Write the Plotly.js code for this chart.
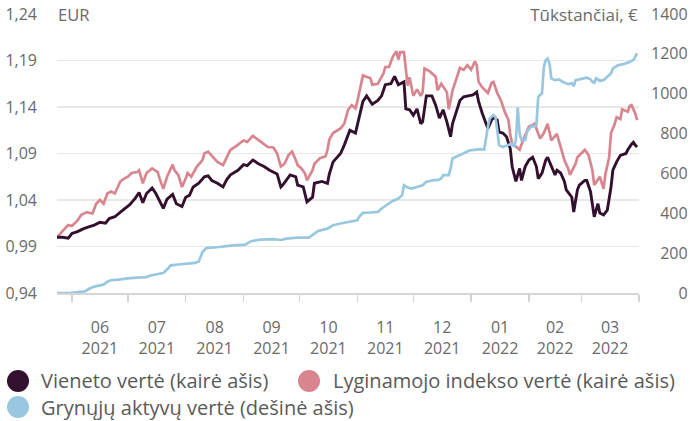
<!DOCTYPE html>
<html><head><meta charset="utf-8">
<script src="https://cdn.plot.ly/plotly-3.0.1.min.js"></script>
<style>html,body{margin:0;padding:0;background:#fff}#chart{width:690px;height:421px}</style>
</head><body><div id="chart"></div>
<script>
// ---- DATA ----
const unitDates = ["2021-05-24","2021-05-27","2021-05-30","2021-06-01","2021-06-04","2021-06-07","2021-06-10","2021-06-13","2021-06-16","2021-06-19","2021-06-21","2021-06-24","2021-06-27","2021-06-29","2021-07-02","2021-07-05","2021-07-07","2021-07-09","2021-07-11","2021-07-14","2021-07-16","2021-07-20","2021-07-22","2021-07-25","2021-07-27","2021-07-30","2021-08-01","2021-08-03","2021-08-05","2021-08-08","2021-08-11","2021-08-13","2021-08-15","2021-08-18","2021-08-21","2021-08-23","2021-08-25","2021-08-29","2021-09-01","2021-09-03","2021-09-06","2021-09-09","2021-09-12","2021-09-15","2021-09-19","2021-09-21","2021-09-22","2021-09-26","2021-09-29","2021-09-30","2021-10-03","2021-10-05","2021-10-08","2021-10-09","2021-10-13","2021-10-16","2021-10-17","2021-10-19","2021-10-23","2021-10-25","2021-10-28","2021-10-31","2021-11-01","2021-11-04","2021-11-06","2021-11-09","2021-11-12","2021-11-14","2021-11-16","2021-11-19","2021-11-21","2021-11-23","2021-11-26","2021-11-27","2021-11-29","2021-12-01","2021-12-03","2021-12-05","2021-12-06","2021-12-08","2021-12-11","2021-12-13","2021-12-15","2021-12-17","2021-12-19","2021-12-21","2021-12-22","2021-12-26","2021-12-28","2021-12-30","2022-01-02","2022-01-04","2022-01-05","2022-01-07","2022-01-10","2022-01-12","2022-01-13","2022-01-15","2022-01-16","2022-01-18","2022-01-20","2022-01-22","2022-01-23","2022-01-25","2022-01-26","2022-01-27","2022-01-28","2022-01-30","2022-02-01","2022-02-03","2022-02-05","2022-02-06","2022-02-08","2022-02-10","2022-02-11","2022-02-13","2022-02-15","2022-02-16","2022-02-18","2022-02-20","2022-02-21","2022-02-24","2022-02-25","2022-02-27","2022-02-28","2022-03-03","2022-03-04","2022-03-06","2022-03-07","2022-03-08","2022-03-10","2022-03-11","2022-03-13","2022-03-15","2022-03-17","2022-03-18","2022-03-20","2022-03-22","2022-03-25","2022-03-26","2022-03-28","2022-03-29","2022-03-30","2022-03-31"];
const unitValues = [1.000,1.000,0.999,1.004,1.006,1.009,1.011,1.013,1.016,1.015,1.020,1.022,1.027,1.030,1.035,1.042,1.048,1.037,1.047,1.053,1.047,1.031,1.041,1.046,1.036,1.033,1.043,1.045,1.054,1.058,1.065,1.066,1.061,1.058,1.054,1.062,1.067,1.072,1.078,1.077,1.083,1.079,1.076,1.072,1.068,1.054,1.056,1.067,1.065,1.056,1.054,1.038,1.043,1.058,1.060,1.058,1.068,1.081,1.090,1.099,1.115,1.112,1.120,1.146,1.152,1.143,1.147,1.152,1.164,1.165,1.173,1.164,1.167,1.138,1.137,1.131,1.138,1.122,1.124,1.152,1.152,1.142,1.128,1.137,1.124,1.108,1.122,1.147,1.151,1.152,1.153,1.156,1.146,1.133,1.117,1.126,1.129,1.126,1.113,1.112,1.108,1.095,1.076,1.060,1.067,1.074,1.061,1.076,1.083,1.086,1.076,1.063,1.069,1.083,1.086,1.076,1.067,1.072,1.069,1.060,1.051,1.043,1.027,1.051,1.056,1.061,1.061,1.049,1.034,1.022,1.036,1.026,1.024,1.029,1.054,1.072,1.081,1.088,1.090,1.094,1.100,1.102,1.099,1.097];

const indexDates = ["2021-05-24","2021-05-27","2021-05-30","2021-06-01","2021-06-04","2021-06-06","2021-06-09","2021-06-12","2021-06-14","2021-06-16","2021-06-18","2021-06-20","2021-06-22","2021-06-24","2021-06-27","2021-06-29","2021-07-01","2021-07-03","2021-07-06","2021-07-07","2021-07-09","2021-07-11","2021-07-14","2021-07-17","2021-07-18","2021-07-20","2021-07-22","2021-07-25","2021-07-26","2021-07-28","2021-07-30","2021-08-01","2021-08-02","2021-08-04","2021-08-07","2021-08-10","2021-08-11","2021-08-13","2021-08-15","2021-08-18","2021-08-21","2021-08-23","2021-08-25","2021-08-28","2021-09-01","2021-09-03","2021-09-06","2021-09-10","2021-09-14","2021-09-17","2021-09-19","2021-09-21","2021-09-23","2021-09-25","2021-09-27","2021-09-29","2021-09-30","2021-10-02","2021-10-04","2021-10-05","2021-10-08","2021-10-09","2021-10-12","2021-10-15","2021-10-16","2021-10-17","2021-10-19","2021-10-23","2021-10-25","2021-10-27","2021-10-29","2021-10-31","2021-11-01","2021-11-04","2021-11-08","2021-11-09","2021-11-12","2021-11-15","2021-11-16","2021-11-18","2021-11-20","2021-11-22","2021-11-23","2021-11-24","2021-11-26","2021-11-28","2021-11-29","2021-12-01","2021-12-03","2021-12-05","2021-12-06","2021-12-07","2021-12-10","2021-12-13","2021-12-14","2021-12-16","2021-12-19","2021-12-20","2021-12-22","2021-12-26","2021-12-28","2021-12-30","2022-01-01","2022-01-03","2022-01-04","2022-01-05","2022-01-07","2022-01-10","2022-01-12","2022-01-13","2022-01-15","2022-01-17","2022-01-19","2022-01-21","2022-01-22","2022-01-23","2022-01-25","2022-01-27","2022-01-29","2022-02-01","2022-02-03","2022-02-04","2022-02-07","2022-02-09","2022-02-11","2022-02-13","2022-02-16","2022-02-18","2022-02-20","2022-02-22","2022-02-23","2022-02-26","2022-02-27","2022-03-01","2022-03-03","2022-03-05","2022-03-07","2022-03-08","2022-03-09","2022-03-11","2022-03-13","2022-03-14","2022-03-16","2022-03-17","2022-03-19","2022-03-20","2022-03-22","2022-03-23","2022-03-26","2022-03-27","2022-03-28","2022-03-30","2022-03-31"];
const indexValues = [1.000,1.006,1.013,1.012,1.018,1.024,1.027,1.0255,1.036,1.040,1.036,1.047,1.049,1.047,1.060,1.063,1.065,1.069,1.070,1.072,1.058,1.069,1.074,1.070,1.063,1.052,1.065,1.078,1.072,1.067,1.054,1.063,1.069,1.065,1.076,1.083,1.090,1.092,1.088,1.081,1.0775,1.085,1.094,1.098,1.104,1.1025,1.109,1.103,1.097,1.0965,1.090,1.076,1.079,1.088,1.092,1.083,1.0775,1.074,1.0685,1.061,1.072,1.079,1.085,1.087,1.094,1.105,1.112,1.117,1.122,1.137,1.142,1.1385,1.146,1.174,1.171,1.164,1.165,1.176,1.183,1.183,1.194,1.200,1.191,1.199,1.199,1.163,1.172,1.152,1.159,1.152,1.156,1.1815,1.178,1.1725,1.158,1.165,1.156,1.1375,1.1575,1.182,1.180,1.185,1.180,1.189,1.185,1.167,1.161,1.155,1.166,1.167,1.155,1.147,1.135,1.126,1.110,1.101,1.097,1.094,1.105,1.119,1.1205,1.122,1.106,1.112,1.122,1.104,1.111,1.097,1.083,1.074,1.067,1.079,1.086,1.090,1.094,1.088,1.072,1.056,1.0595,1.065,1.052,1.068,1.086,1.112,1.122,1.129,1.127,1.1375,1.135,1.141,1.142,1.133,1.126];

const navDates = ["2021-05-24","2021-05-31","2021-06-04","2021-06-08","2021-06-10","2021-06-13","2021-06-16","2021-06-18","2021-06-20","2021-06-22","2021-06-27","2021-07-02","2021-07-08","2021-07-11","2021-07-13","2021-07-18","2021-07-20","2021-07-22","2021-07-24","2021-07-28","2021-08-02","2021-08-06","2021-08-08","2021-08-10","2021-08-12","2021-08-15","2021-08-19","2021-08-25","2021-09-02","2021-09-05","2021-09-10","2021-09-17","2021-09-21","2021-09-24","2021-09-30","2021-10-06","2021-10-08","2021-10-11","2021-10-16","2021-10-19","2021-10-23","2021-10-28","2021-11-01","2021-11-02","2021-11-04","2021-11-08","2021-11-12","2021-11-14","2021-11-17","2021-11-20","2021-11-23","2021-11-25","2021-11-26","2021-11-28","2021-11-30","2021-12-03","2021-12-06","2021-12-08","2021-12-12","2021-12-14","2021-12-16","2021-12-17","2021-12-20","2021-12-21","2021-12-22","2021-12-26","2021-12-29","2021-12-31","2022-01-06","2022-01-08","2022-01-10","2022-01-11","2022-01-13","2022-01-14","2022-01-15","2022-01-16","2022-01-18","2022-01-21","2022-01-23","2022-01-24","2022-01-25","2022-01-26","2022-01-27","2022-01-28","2022-01-30","2022-01-31","2022-02-02","2022-02-04","2022-02-05","2022-02-06","2022-02-07","2022-02-08","2022-02-09","2022-02-10","2022-02-11","2022-02-12","2022-02-13","2022-02-15","2022-02-17","2022-02-19","2022-02-22","2022-02-24","2022-02-25","2022-02-26","2022-02-28","2022-03-04","2022-03-06","2022-03-07","2022-03-08","2022-03-09","2022-03-11","2022-03-13","2022-03-15","2022-03-17","2022-03-18","2022-03-21","2022-03-23","2022-03-26","2022-03-29","2022-03-31"];
const navValues = [0,0,5,8,20,32,38,42,57,64,68,75,78,80,88,94,100,118,139,143,147,151,158,206,225,229,231,238,243,260,268,270,266,273,278,278,290,311,323,340,349,357,365,382,402,404,407,424,441,462,474,491,541,529,524,532,541,558,566,566,575,591,591,625,675,692,705,715,722,720,834,876,893,884,817,742,733,742,750,733,767,931,801,767,767,809,834,837,842,985,993,1002,1135,1169,1177,1152,1077,1068,1072,1060,1048,1052,1038,1068,1072,1080,1072,1060,1055,1077,1065,1068,1085,1102,1127,1144,1147,1156,1169,1203];

const seriesNames = ["Vieneto vertė (kairė ašis)","Lyginamojo indekso vertė (kairė ašis)","Grynųjų aktyvų vertė (dešinė ašis)"];
const seriesColors = ["#33102e","#d9858f","#98c7df"];
const leftTickVals = [0.94,0.99,1.04,1.09,1.14,1.19,1.24];
const leftTickText = ["0,94","0,99","1,04","1,09","1,14","1,19","1,24"];
const rightTickVals = [0,200,400,600,800,1000,1200,1400];
const rightTickText = ["0","200","400","600","800","1000","1200","1400"];
const leftUnit = "EUR";
const rightUnit = "Tūkstančiai, €";

// ---- LAYOUT ----
const W = 690, H = 421;
const M = {l:57, r:51, t:14, b:128};
const PW = W - M.l - M.r, PH = H - M.t - M.b;
const px2x = p => (p - M.l) / PW;
const px2y = p => (H - M.b - p) / PH;
const FONT = "'Open Sans', 'Noto Sans', sans-serif";
const GRAY = "#6a6a6a";

const traces = [
  {x: indexDates, y: indexValues, type:'scatter', mode:'lines', name: seriesNames[1],
   line:{color: seriesColors[1], width:2.7}, yaxis:'y', showlegend:false, hoverinfo:'skip'},
  {x: unitDates, y: unitValues, type:'scatter', mode:'lines', name: seriesNames[0],
   line:{color: seriesColors[0], width:2.9}, yaxis:'y', showlegend:false, hoverinfo:'skip'},
  {x: navDates, y: navValues, type:'scatter', mode:'lines', name: seriesNames[2],
   line:{color: seriesColors[2], width:2.7}, yaxis:'y2', showlegend:false, hoverinfo:'skip'}
];

const legendPos = [
  {cx:18, cy:381, tx:39},
  {cx:309, cy:381, tx:331},
  {cx:18, cy:407, tx:39}
];
const legendOrder = [0,1,2];
const shapes = legendOrder.map((s,i) => ({
  type:'circle', xref:'paper', yref:'paper', xsizemode:'pixel', ysizemode:'pixel',
  xanchor: px2x(legendPos[i].cx), yanchor: px2y(legendPos[i].cy),
  x0:-11, x1:11, y0:-11, y1:11, fillcolor: seriesColors[s], line:{width:0}
}));
const annotations = legendOrder.map((s,i) => ({
  xref:'paper', yref:'paper', x: px2x(legendPos[i].tx), y: px2y(legendPos[i].cy),
  xanchor:'left', yanchor:'middle', showarrow:false, text: seriesNames[s],
  font:{family:FONT, size:20, color:'#5a5a5a'}
}));
annotations.push({xref:'paper', yref:'y', x:0, y:1.24, xanchor:'left', yanchor:'middle',
  showarrow:false, text:leftUnit, width:45, align:'left', bgcolor:'#ffffff', borderpad:0,
  font:{family:FONT, size:16.5, color:GRAY}});
annotations.push({xref:'paper', yref:'y', x:1, y:1.24, xanchor:'right', yanchor:'middle',
  showarrow:false, text:rightUnit, width:125, align:'right', bgcolor:'#ffffff', borderpad:0,
  font:{family:FONT, size:17, color:GRAY}});

const layout = {
  width: W, height: H, margin: M, paper_bgcolor:'#fff', plot_bgcolor:'#fff',
  font:{family:FONT, size:16, color:GRAY},
  showlegend:false,
  xaxis:{type:'date', range:['2021-05-24','2022-04-01'], dtick:'M1', tick0:'2021-06-01',
    ticklabelmode:'period', tickformat:'%m<br>%Y', ticks:'outside', ticklen:7, tickwidth:1.3,
    tickcolor:'#d2d2d2', showline:true, linecolor:'#d6d6d6', linewidth:1.5, showgrid:false,
    zeroline:false, ticklabelstandoff:12, tickfont:{family:FONT, size:16, color:GRAY}, fixedrange:true},
  yaxis:{range:[0.94,1.24], tickvals:leftTickVals, ticktext:leftTickText, showgrid:true,
    gridcolor:'#e8e8e4', gridwidth:1.5, zeroline:false, ticks:'', showline:false,
    ticklabelstandoff:19, tickfont:{family:FONT, size:16, color:GRAY}, fixedrange:true},
  yaxis2:{range:[0,1400], tickvals:rightTickVals, ticktext:rightTickText, overlaying:'y',
    side:'right', showgrid:false, zeroline:false, ticks:'', showline:false,
    ticklabelstandoff:11, tickfont:{family:FONT, size:16, color:GRAY}, fixedrange:true},
  shapes: shapes, annotations: annotations
};

Plotly.newPlot('chart', traces, layout, {staticPlot:true, displayModeBar:false}).then(() => {
  // right-align the right-axis tick labels to the page edge
  const texts = Array.from(document.querySelectorAll('g.y2tick text'));
  let maxW = 0;
  texts.forEach(t => { maxW = Math.max(maxW, t.getBBox().width); });
  texts.forEach(t => {
    const x = parseFloat(t.getAttribute('x')) || 0;
    t.setAttribute('x', x + maxW);
    t.setAttribute('text-anchor', 'end');
  });
});
</script></body></html>
